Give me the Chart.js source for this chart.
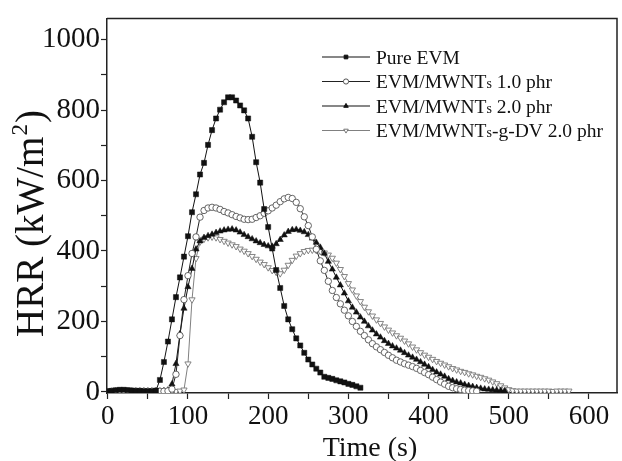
<!DOCTYPE html>
<html>
<head>
<meta charset="utf-8">
<script src="https://cdn.jsdelivr.net/npm/chart.js@4.4.1/dist/chart.umd.min.js"></script>
<style>
  body { margin: 0; background: #fff; }
  canvas { display: block; }
</style>
</head>
<body>
<canvas id="hrrChart" width="622" height="461"></canvas>
<script>
// sampling times (s), one reading every 5 s
const timeS = [
  0, 5, 10, 15, 20, 25, 30, 35, 40, 45, 50, 55, 60, 65, 70, 75, 80, 85, 90, 95,
  100, 105, 110, 115, 120, 125, 130, 135, 140, 145, 150, 155, 160, 165, 170, 175, 180, 185, 190, 195,
  200, 205, 210, 215, 220, 225, 230, 235, 240, 245, 250, 255, 260, 265, 270, 275, 280, 285, 290, 295,
  300, 305, 310, 315, 320, 325, 330, 335, 340, 345, 350, 355, 360, 365, 370, 375, 380, 385, 390, 395,
  400, 405, 410, 415, 420, 425, 430, 435, 440, 445, 450, 455, 460, 465, 470, 475, 480, 485, 490, 495,
  500, 505, 510, 515, 520, 525, 530, 535, 540, 545, 550, 555, 560, 565, 570, 575
];

const seriesLabels = ["Pure EVM", "EVM/MWNTs 1.0 phr", "EVM/MWNTs 2.0 phr", "EVM/MWNTs-g-DV 2.0 phr"];

// HRR (kW/m2)
const pureEVM = [
  2, 3, 5, 6, 6, 5, 4, 3, 3, 2, 2, 2, 4,
  34, 85, 143, 206, 269, 325, 384, 442, 510, 561, 617, 650, 701, 743, 776, 801, 822, 836,
  836, 827, 813, 799, 776, 724, 652, 594, 519, 468, 407, 346, 295, 244, 206, 178, 152, 132,
  111, 92, 78, 66, 55, 43, 40, 37, 33, 30, 27, 23, 20, 16, 12
];
const mwnt10 = [
  1, 2, 2, 3, 3, 3, 2, 2, 2, 2, 2, 2, 2, 2, 2, 3,
  8, 50, 160, 262, 330, 393, 440, 496, 515, 522, 524, 522, 518, 512, 508, 503, 498, 494, 490,
  489, 490, 495, 500, 507, 514, 522, 530, 540, 548, 552, 549, 538, 520, 497, 472, 440, 405,
  372, 345, 314, 288, 268, 250, 232, 216, 200, 186, 172, 160, 148, 137, 128, 120, 112, 104,
  97, 90, 85, 80, 76, 72, 67, 61, 55, 49, 42, 35, 28, 22, 16, 12, 9, 7, 5, 4, 3, 2
];
const mwnt20 = [
  1, 1, 2, 2, 2, 2, 2, 2, 2, 2, 2, 2, 2, 2, 3, 5,
  22, 80, 165, 237, 298, 350, 405, 428, 438, 443, 447, 452, 456, 459, 461, 462, 459, 453, 446,
  440, 434, 428, 423, 418, 414, 413, 420, 432, 445, 455, 460, 461, 458, 454, 446, 436, 424,
  410, 393, 370, 348, 325, 303, 280, 258, 240, 226, 212, 200, 187, 175, 164, 155, 145, 137,
  130, 124, 118, 111, 104, 98, 92, 85, 78, 71, 63, 56, 50, 44, 37, 32, 28, 25, 21, 18, 15,
  12, 10, 8, 7, 6, 5, 4, 3
];
const mwntDV20 = [
  1, 1, 1, 2, 2, 2, 2, 2, 2, 2, 2, 2, 2, 2, 2, 2, 2, 2, 3,
  6, 80, 262, 379, 426, 434, 438, 440, 438, 433, 428, 423, 418, 413, 406, 400, 393, 385, 377,
  369, 362, 353, 345, 340, 336, 346, 360, 374, 386, 393, 399, 402, 403, 402, 399, 395, 389,
  380, 366, 348, 328, 308, 290, 273, 257, 241, 228, 216, 205, 195, 185, 176, 168, 160, 153,
  145, 137, 128, 120, 112, 105, 99, 93, 87, 82, 77, 72, 67, 63, 59, 56, 52, 49, 45, 42, 38,
  34, 29, 24, 18, 12, 7, 4, 3, 3, 3, 3, 3, 3, 3, 3, 3, 2, 3, 3, 3, 3
];

const yTickValues = [0, 100, 200, 300, 400, 500, 600, 700, 800, 900, 1000];
const xTickValues = [0, 50, 100, 150, 200, 250, 300, 350, 400, 450, 500, 550, 600];

const serif = "'Liberation Serif', 'Times New Roman', serif";

function toPoints(values) {
  return values.map((v, i) => ({ x: timeS[i], y: v }));
}

// top and right sides of the frame
const framePlugin = {
  id: 'frame',
  afterDraw(chart) {
    const a = chart.chartArea, ctx = chart.ctx;
    ctx.save();
    ctx.strokeStyle = '#222';
    ctx.lineWidth = 1.5;
    ctx.beginPath();
    ctx.moveTo(a.left, a.top);
    ctx.lineTo(a.right, a.top);
    ctx.lineTo(a.right, a.bottom);
    ctx.stroke();
    ctx.restore();
  }
};

// axis titles; the y one has a raised small "2"
const titlesPlugin = {
  id: 'axisTitles',
  afterDraw(chart) {
    const ctx = chart.ctx;
    ctx.save();
    ctx.fillStyle = '#111';
    ctx.textBaseline = 'alphabetic';
    ctx.font = '28px ' + serif;
    ctx.textAlign = 'center';
    ctx.fillText('Time (s)', 370, 456);
    ctx.textAlign = 'left';

    ctx.translate(43, 337);
    ctx.rotate(-Math.PI / 2);
    ctx.font = '39px ' + serif;
    const head = 'HRR (kW/m';
    ctx.fillText(head, 0, 0);
    let x = ctx.measureText(head).width;
    ctx.font = '23px ' + serif;
    ctx.fillText('2', x + 1, -16);
    x += ctx.measureText('2').width + 2;
    ctx.font = '39px ' + serif;
    ctx.fillText(')', x, 0);
    ctx.restore();
  }
};

// legend: line with marker in the middle, "s" of MWNTs set small
const legendPlugin = {
  id: 'lineLegend',
  afterDraw(chart) {
    const ctx = chart.ctx;
    const x0 = 322, x1 = 370, tx = 376;
    chart.data.datasets.forEach((ds, i) => {
      const y = 57 + i * 24.5;
      ctx.save();
      ctx.strokeStyle = ds.borderColor;
      ctx.lineWidth = 1.2;
      ctx.beginPath();
      ctx.moveTo(x0, y);
      ctx.lineTo(x1, y);
      ctx.stroke();
      ctx.fillStyle = ds.pointBackgroundColor;
      ctx.strokeStyle = ds.pointBorderColor;
      ctx.lineWidth = 1;
      Chart.helpers.drawPoint(ctx, {
        pointStyle: ds.pointStyle,
        radius: 2.6,
        rotation: ds.pointRotation || 0,
        borderWidth: 1
      }, (x0 + x1) / 2, y);

      ctx.fillStyle = '#111';
      ctx.textBaseline = 'alphabetic';
      const base = y + 6.5;
      const parts = ds.label.split('MWNTs');
      ctx.font = '19.5px ' + serif;
      let x = tx;
      if (parts.length === 1) {
        ctx.fillText(ds.label, x, base);
      } else {
        const head = parts[0] + 'MWNT';
        ctx.fillText(head, x, base);
        x += ctx.measureText(head).width;
        ctx.font = '14px ' + serif;
        ctx.fillText('s', x, base);
        x += ctx.measureText('s').width;
        ctx.font = '19.5px ' + serif;
        ctx.fillText(parts[1], x, base);
      }
      ctx.restore();
    });
  }
};

new Chart("hrrChart", {
  type: "line",
  data: {
    datasets: [{
      label: seriesLabels[0],
      data: toPoints(pureEVM),
      borderColor: "#111",
      borderWidth: 1,
      pointStyle: "rect",
      pointRadius: 3.6,
      pointBackgroundColor: "#111",
      pointBorderColor: "#111",
      pointBorderWidth: 0.5,
      tension: 0,
      fill: false
    }, {
      label: seriesLabels[1],
      data: toPoints(mwnt10),
      borderColor: "#222",
      borderWidth: 1,
      pointStyle: "circle",
      pointRadius: 3.2,
      pointBackgroundColor: "#fff",
      pointBorderColor: "#555",
      pointBorderWidth: 0.9,
      tension: 0,
      fill: false
    }, {
      label: seriesLabels[2],
      data: toPoints(mwnt20),
      borderColor: "#111",
      borderWidth: 1,
      pointStyle: "triangle",
      pointRadius: 3.6,
      pointBackgroundColor: "#111",
      pointBorderColor: "#111",
      pointBorderWidth: 0.5,
      tension: 0,
      fill: false
    }, {
      label: seriesLabels[3],
      data: toPoints(mwntDV20),
      borderColor: "#808080",
      borderWidth: 1,
      pointStyle: "triangle",
      pointRotation: 180,
      pointRadius: 3.6,
      pointBackgroundColor: "#fff",
      pointBorderColor: "#777",
      pointBorderWidth: 0.9,
      tension: 0,
      fill: false
    }]
  },
  options: {
    responsive: false,
    animation: false,
    devicePixelRatio: 1,
    layout: { padding: { top: 14, right: 5, left: 0, bottom: 0 } },
    plugins: {
      legend: { display: false },
      tooltip: { enabled: false }
    },
    scales: {
      x: {
        type: "linear",
        min: -1,
        max: 635,
        afterFit: (s) => { s.height = 68; },
        afterBuildTicks: (s) => { s.ticks = xTickValues.map(v => ({ value: v })); },
        border: { display: true, color: "#222", width: 1.5 },
        grid: { drawOnChartArea: false, drawTicks: true, tickLength: 6, color: "#222", tickWidth: 1.2 },
        ticks: {
          autoSkip: false,
          maxRotation: 0,
          padding: 2,
          color: "#111",
          font: { family: serif, size: 27 },
          callback: (v) => (v % 100 === 0 ? v : "")
        },
        title: { display: false }
      },
      y: {
        type: "linear",
        min: -3,
        max: 1060,
        afterFit: (s) => { s.width = 107; },
        afterBuildTicks: (s) => { s.ticks = yTickValues.map(v => ({ value: v })); },
        border: { display: true, color: "#222", width: 1.5 },
        grid: { drawOnChartArea: false, drawTicks: true, tickLength: 6, color: "#222", tickWidth: 1.2 },
        ticks: {
          autoSkip: false,
          padding: 1,
          color: "#111",
          font: { family: serif, size: 29 },
          callback: (v) => (v % 200 === 0 ? v : "")
        },
        title: { display: false }
      }
    }
  },
  plugins: [framePlugin, titlesPlugin, legendPlugin]
});
</script>
</body>
</html>
